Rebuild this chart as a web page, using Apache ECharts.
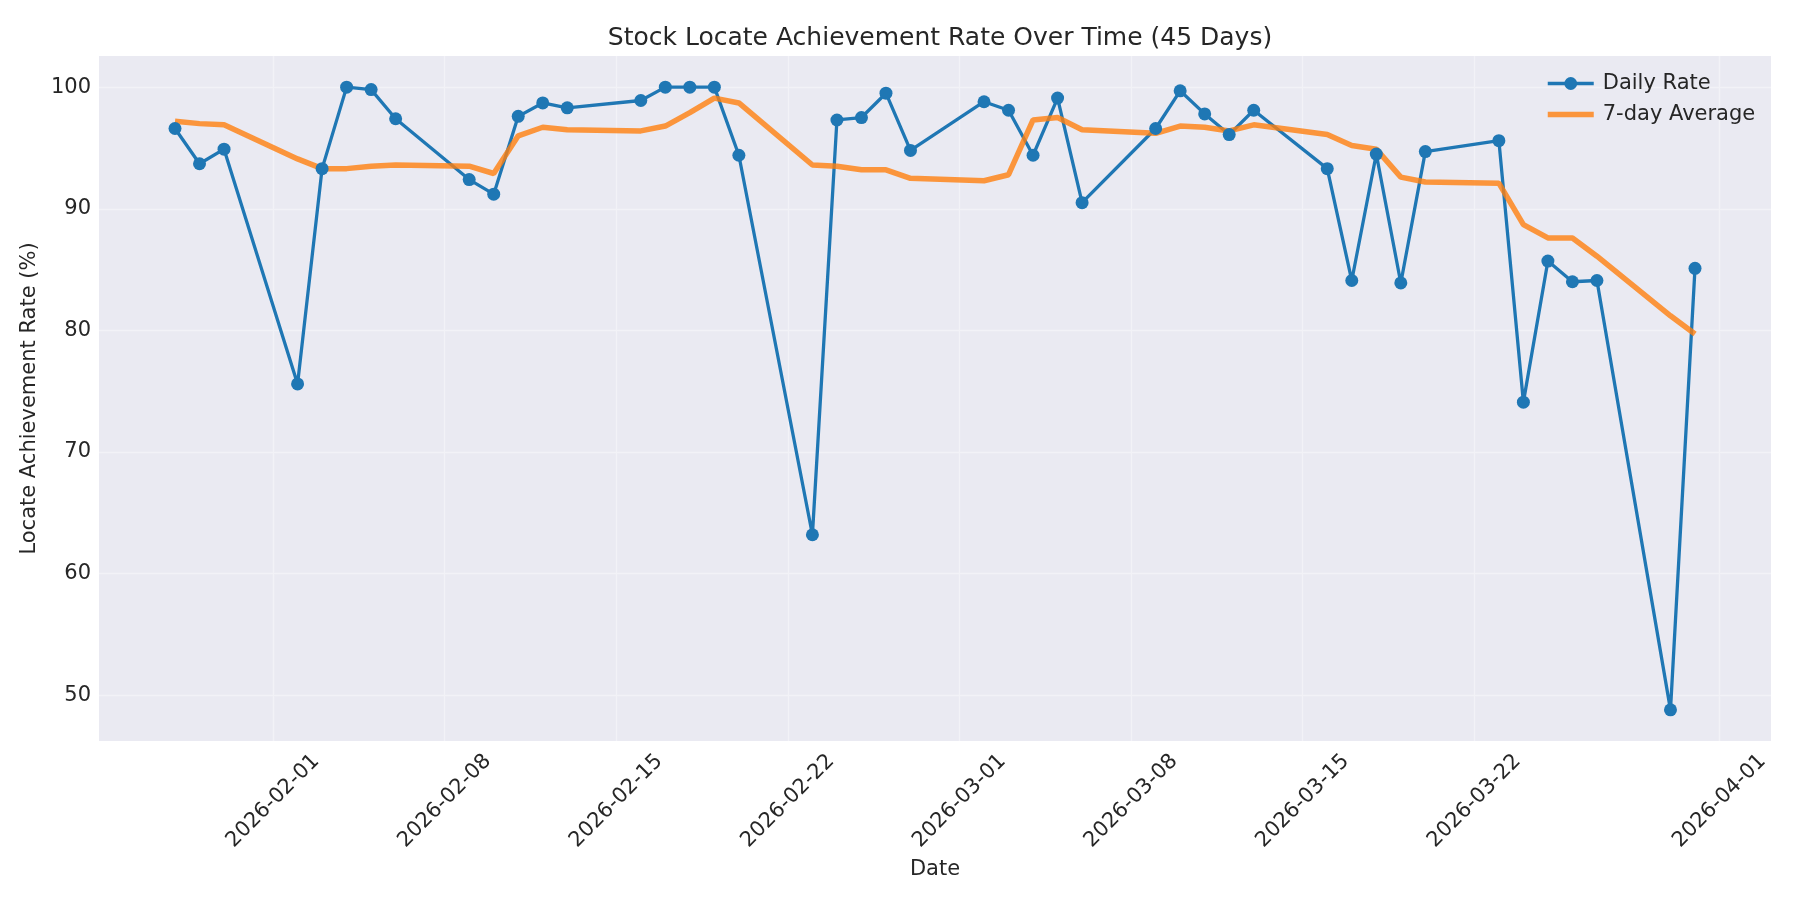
<!DOCTYPE html>
<html>
<head>
<meta charset="utf-8">
<title>Stock Locate Achievement Rate</title>
<script src="https://cdn.jsdelivr.net/npm/echarts@6.0.0/dist/echarts.min.js"></script>
<style>
  html, body { margin: 0; padding: 0; background: #fff; }
  #chart { width: 1800px; height: 900px; }
</style>
</head>
<body>
<div id="chart"></div>
<script>
// business days shown on the chart
var dates = [
    '2026-01-28', '2026-01-29', '2026-01-30',
    '2026-02-02', '2026-02-03', '2026-02-04', '2026-02-05', '2026-02-06',
    '2026-02-09', '2026-02-10', '2026-02-11', '2026-02-12', '2026-02-13',
    '2026-02-16', '2026-02-17', '2026-02-18', '2026-02-19', '2026-02-20',
    '2026-02-23', '2026-02-24', '2026-02-25', '2026-02-26', '2026-02-27',
    '2026-03-02', '2026-03-03', '2026-03-04', '2026-03-05', '2026-03-06',
    '2026-03-09', '2026-03-10', '2026-03-11', '2026-03-12', '2026-03-13',
    '2026-03-16', '2026-03-17', '2026-03-18', '2026-03-19', '2026-03-20',
    '2026-03-23', '2026-03-24', '2026-03-25', '2026-03-26', '2026-03-27',
    '2026-03-30', '2026-03-31'
];

var dailyRate = [
    96.6, 93.7, 94.9,
    75.6, 93.3, 100.0, 99.8, 97.4,
    92.4, 91.2, 97.6, 98.7, 98.3,
    98.9, 100.0, 100.0, 100.0, 94.4,
    63.2, 97.3, 97.5, 99.5, 94.8,
    98.8, 98.1, 94.4, 99.1, 90.5,
    96.6, 99.7, 97.8, 96.1, 98.1,
    93.3, 84.1, 94.5, 83.9, 94.7,
    95.6, 74.1, 85.7, 84.0, 84.1,
    48.8, 85.1
];

var avg7 = [
    97.2, 97.0, 96.9,
    94.1, 93.3, 93.3, 93.5, 93.6,
    93.5, 92.9, 96.0, 96.7, 96.5,
    96.4, 96.8, 97.9, 99.1, 98.7,
    93.6, 93.5, 93.2, 93.2, 92.5,
    92.3, 92.8, 97.3, 97.5, 96.5,
    96.2, 96.8, 96.7, 96.4, 96.9,
    96.1, 95.2, 94.9, 92.6, 92.2,
    92.1, 88.7, 87.6, 87.6, 86.1,
    81.2, 79.7
];

var xTicks = ['2026-02-01', '2026-02-08', '2026-02-15', '2026-02-22',
              '2026-03-01', '2026-03-08', '2026-03-15', '2026-03-22', '2026-04-01'];
var yTicks = [50, 60, 70, 80, 90, 100];

function toTime(s) {
    var p = s.split('-');
    return new Date(+p[0], +p[1] - 1, +p[2]).getTime();
}

var t0 = toTime(dates[0]);
var t1 = toTime(dates[dates.length - 1]);
var pad = (t1 - t0) * 0.05;
var yPad = (100 - 48.8) * 0.05;

var textColor = '#262626';
var font = 'DejaVu Sans';

var chart = echarts.init(document.getElementById('chart'));
chart.setOption({
    animation: false,
    textStyle: { fontFamily: font },
    title: {
        text: 'Stock Locate Achievement Rate Over Time (45 Days)',
        left: 935,
        top: 21,
        textAlign: 'center',
        textStyle: { fontFamily: font, fontSize: 25, fontWeight: 'normal', color: textColor }
    },
    legend: {
        orient: 'vertical',
        left: 1540,
        top: 68,
        itemWidth: 46,
        itemHeight: 16,
        itemGap: 10,
        textStyle: { fontFamily: font, fontSize: 21, color: textColor, padding: [0, 0, 0, 4] },
        data: [
            { name: 'Daily Rate', lineStyle: { width: 3.3 } },
            { name: '7-day Average', lineStyle: { width: 5.5, opacity: 0.8 }, itemStyle: { opacity: 0 } }
        ]
    },
    grid: {
        left: 99,
        right: 29,
        top: 56,
        bottom: 159,
        show: true,
        backgroundColor: '#eaeaf2',
        borderWidth: 0
    },
    xAxis: {
        type: 'time',
        min: t0 - pad,
        max: t1 + pad,
        name: 'Date',
        nameLocation: 'middle',
        nameGap: 116,
        nameTextStyle: { fontFamily: font, fontSize: 21, color: textColor },
        axisLine: { show: false },
        axisTick: { show: false, customValues: xTicks.map(toTime) },
        axisLabel: {
            customValues: xTicks.map(toTime),
            formatter: '{yyyy}-{MM}-{dd}',
            rotate: 45,
            align: 'center',
            verticalAlign: 'middle',
            margin: 60,
            fontFamily: font,
            fontSize: 21,
            color: textColor
        },
        splitLine: { show: true, lineStyle: { color: '#f2f2f7', width: 1.3 } }
    },
    yAxis: {
        type: 'value',
        min: 48.8 - yPad,
        max: 100 + yPad,
        name: 'Locate Achievement Rate (%)',
        nameLocation: 'middle',
        nameGap: 57,
        nameTextStyle: { fontFamily: font, fontSize: 21, color: textColor },
        axisLine: { show: false },
        axisTick: { show: false, customValues: yTicks },
        axisLabel: {
            customValues: yTicks,
            margin: 8,
            fontFamily: font,
            fontSize: 21,
            color: textColor
        },
        splitLine: { show: true, lineStyle: { color: '#f2f2f7', width: 1.3 } }
    },
    series: [
        {
            name: 'Daily Rate',
            type: 'line',
            data: dates.map(function (d, i) { return [toTime(d), dailyRate[i]]; }),
            symbol: 'circle',
            symbolSize: 13,
            showAllSymbol: true,
            itemStyle: { color: '#1f77b4' },
            lineStyle: { color: '#1f77b4', width: 3.3 }
        },
        {
            name: '7-day Average',
            type: 'line',
            data: dates.map(function (d, i) { return [toTime(d), avg7[i]]; }),
            symbol: 'none',
            itemStyle: { color: '#ff7f0e', opacity: 0.8 },
            lineStyle: { color: '#ff7f0e', width: 5.5, opacity: 0.8 }
        }
    ]
});
</script>
</body>
</html>
